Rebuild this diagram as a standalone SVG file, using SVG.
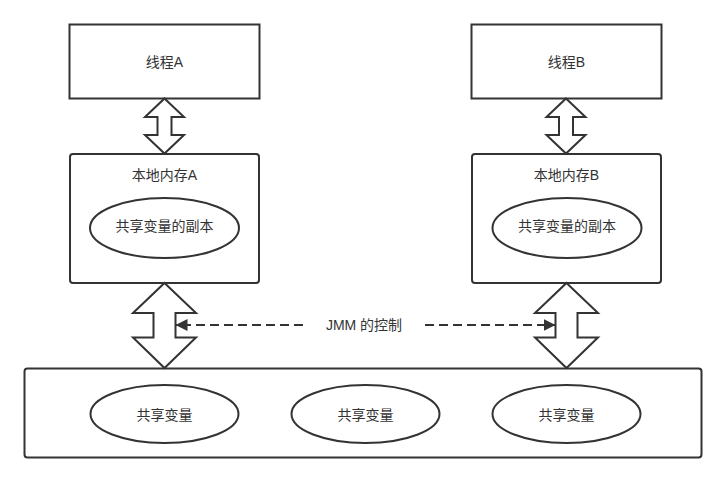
<svg xmlns="http://www.w3.org/2000/svg" width="727" height="483" viewBox="0 0 727 483">
  <style>
    .box { fill: #ffffff; stroke: #333333; stroke-width: 2; }
    .ell { fill: #ffffff; stroke: #333333; stroke-width: 2; }
    .arr { fill: #ffffff; stroke: #333333; stroke-width: 2; stroke-linejoin: miter; }
    .lbl { font-family: "Liberation Sans", "Noto Sans CJK SC", sans-serif; font-size: 14px; fill: #333333; text-anchor: middle; dominant-baseline: central; }
    .dash { fill: none; stroke: #333333; stroke-width: 2; stroke-dasharray: 9 5; }
  </style>
  <defs>
    <marker id="tri" viewBox="0 0 10 10" refX="10" refY="5" markerWidth="6" markerHeight="6" markerUnits="strokeWidth" orient="auto">
      <path d="M0,0 L10,5 L0,10 Z" fill="#333333"/>
    </marker>
  </defs>
  <rect width="727" height="483" fill="#ffffff"/>

  <g id="thread-a">
    <rect class="box" x="69.5" y="24.5" width="190" height="74"/>
    <text class="lbl" x="164.5" y="61.5">线程A</text>
  </g>
  <g id="thread-b">
    <rect class="box" x="471.5" y="24.5" width="190" height="74"/>
    <text class="lbl" x="566.5" y="61.5">线程B</text>
  </g>

  <g id="local-a">
    <rect class="box" x="70" y="154" width="189" height="129" rx="3"/>
    <text class="lbl" x="164.5" y="175">本地内存A</text>
  </g>
  <g id="copy-a">
    <ellipse class="ell" cx="164.5" cy="228" rx="74.5" ry="30"/>
    <text class="lbl" x="164.5" y="226">共享变量的副本</text>
  </g>
  <g id="local-b">
    <rect class="box" x="472" y="154" width="189" height="129" rx="3"/>
    <text class="lbl" x="566.5" y="175">本地内存B</text>
  </g>
  <g id="copy-b">
    <ellipse class="ell" cx="567" cy="228" rx="74.5" ry="30"/>
    <text class="lbl" x="567" y="226">共享变量的副本</text>
  </g>

  <g id="main-memory">
    <rect class="box" x="24.5" y="368.5" width="677" height="89" rx="3"/>
  </g>
  <g id="var-1">
    <ellipse class="ell" cx="164.5" cy="414" rx="74" ry="29"/>
    <text class="lbl" x="164.5" y="415">共享变量</text>
  </g>
  <g id="var-2">
    <ellipse class="ell" cx="365.5" cy="414" rx="74" ry="29"/>
    <text class="lbl" x="365.5" y="415">共享变量</text>
  </g>
  <g id="var-3">
    <ellipse class="ell" cx="566.5" cy="414" rx="74" ry="29"/>
    <text class="lbl" x="566.5" y="415">共享变量</text>
  </g>

  <g id="connectors">
    <polygon class="arr" points="164.5,98.5 184,117 171.5,117 171.5,135 184,135 164.5,153.5 145,135 157.5,135 157.5,117 145,117"/>
    <polygon class="arr" points="566,98.5 585.5,117 573,117 573,135 585.5,135 566,153.5 546.5,135 559,135 559,117 546.5,117"/>
    <polygon class="arr" points="164.5,283 196,313 175.5,313 175.5,337.5 196,337.5 164.5,368 133,337.5 153.5,337.5 153.5,313 133,313"/>
    <polygon class="arr" points="566.5,283 598,313 577.5,313 577.5,337.5 598,337.5 566.5,368 535,337.5 555.5,337.5 555.5,313 535,313"/>
    <path class="dash" d="M303,325 L175.5,325" marker-end="url(#tri)"/>
    <path class="dash" d="M425,325 L555.5,325" marker-end="url(#tri)"/>
    <text class="lbl" x="364" y="325">JMM 的控制</text>
  </g>
</svg>
